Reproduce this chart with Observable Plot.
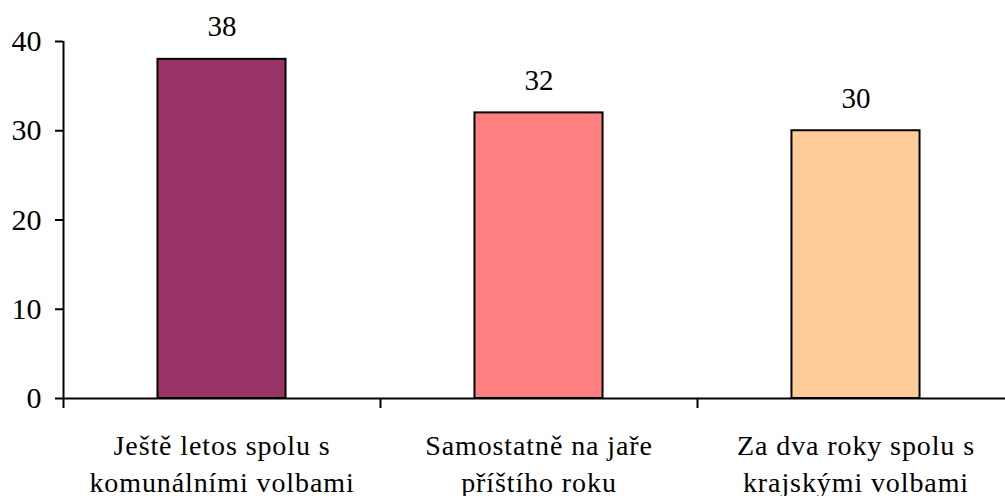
<!DOCTYPE html>
<html>
<head>
<meta charset="utf-8">
<script src="https://cdn.jsdelivr.net/npm/d3@7"></script>
<script src="https://cdn.jsdelivr.net/npm/@observablehq/plot@0.6"></script>
<style>
  html, body { margin: 0; padding: 0; background: #fff; overflow: hidden; }
</style>
</head>
<body>
<div id="chart"></div>
<script>
const categories = ["Ještě letos spolu s\nkomunálními volbami", "Samostatně na jaře\npříštího roku", "Za dva roky spolu s\nkrajskými volbami"];
const values = [38, 32, 30];
const colors = ["#993366", "#FF8080", "#FFCC99"];
const yTicks = [0, 10, 20, 30, 40];

const data = categories.map((c, i) => ({cat: c, i, value: values[i], color: colors[i]}));

const font = "Liberation Serif";

const chart = Plot.plot({
  width: 1005,
  height: 496,
  marginLeft: 63,
  marginRight: -9,
  marginTop: 41,
  marginBottom: 98,
  style: {fontFamily: "Liberation Serif", fontSize: "28px", color: "#000", background: "#fff"},
  x: {domain: [0, categories.length], axis: null},
  y: {domain: [0, 40], axis: null},
  marks: [
    Plot.rectY(data, {x1: d => d.i + 0.298, x2: d => d.i + 0.702, y: "value", fill: "color", stroke: "#000", strokeWidth: 2}),
    Plot.ruleX([0], {stroke: "#000", strokeWidth: 2}),
    Plot.ruleY([0], {stroke: "#000", strokeWidth: 2}),
    Plot.axisY({ticks: yTicks, tickSize: 8, tickPadding: 14, tickFormat: d => d, label: null, fontSize: 30, fontFamily: font, strokeWidth: 2}),
    Plot.axisX({ticks: d3.range(categories.length + 1), tickSize: 10, tickFormat: () => "", label: null, strokeWidth: 2}),
    Plot.text(data, {x: d => d.i + 0.5, y: 0, text: "cat", dy: 31, lineAnchor: "top", lineHeight: 1.3, fontSize: 28, fontFamily: font, fill: "#000", style: {letterSpacing: "0.9px"}}),
    Plot.text(data, {x: d => d.i + 0.5, y: "value", text: "value", dy: -23, lineAnchor: "bottom", fontSize: 29, fontFamily: font, fill: "#000"})
  ]
});
d3.select(chart).selectAll("text").filter(function() { return this.textContent.length > 3; }).style("letter-spacing", "0.9px");
document.getElementById("chart").appendChild(chart);
</script>
</body>
</html>
